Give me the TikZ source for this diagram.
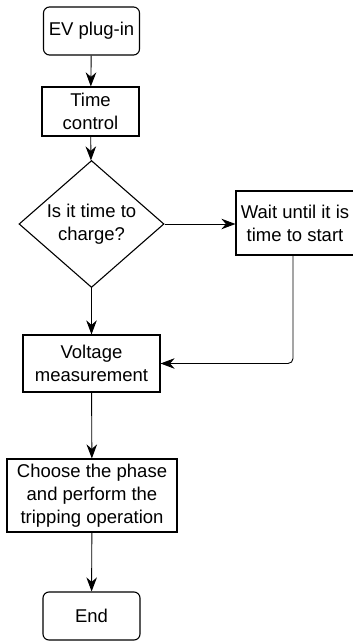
\documentclass[tikz,border=0pt]{standalone}
\usepackage{fontspec}
\setmainfont{Liberation Sans}
\usetikzlibrary{shapes.geometric,arrows.meta,positioning,calc}

\begin{document}
\begin{tikzpicture}[
    x=1pt, y=1pt,
    every node/.style={font=\fontsize{18.5}{23}\selectfont, align=center},
    procbox/.style={draw, line width=1.1pt, inner sep=0pt},
    termbox/.style={procbox, rounded corners=6pt},
    decbox/.style={draw, diamond, line width=1.1pt, inner sep=0pt, aspect=1.14},
    flow/.style={line width=0.9pt, -{Stealth[scale=2]}},
]
    \useasboundingbox (0,0) rectangle (353,-642);

    % main column
    \node[termbox, minimum width=96pt, minimum height=48pt] (plug) at (91.5,-31) {EV plug-in};
    \node[procbox, minimum width=97pt, minimum height=49pt] (timectl) at (90.5,-111.5) {Time\\control};
    \node[decbox, minimum width=145pt, minimum height=127pt] (ask) at (91.5,-224) {Is it time to\\charge?};
    \node[procbox, minimum width=137pt, minimum height=57pt] (volt) at (91.5,-363.5) {Voltage\\measurement};
    \node[procbox, minimum width=170pt, minimum height=73pt] (trip) at (92,-495.5) {Choose the phase\\and perform the\\tripping operation};
    \node[termbox, minimum width=97pt, minimum height=48pt] (fin) at (91.5,-616) {End};

    % waiting branch
    \node[procbox, minimum width=118pt, minimum height=64pt] (wait) at (295,-223) {Wait until it is\\time to start};
    \coordinate (bend) at (293,-363.5);

    % connectors
    \draw[flow] (plug) -- (timectl);
    \draw[flow] (timectl) -- (ask);
    \draw[flow] (ask.east) -- (ask.east -| wait.west);
    \draw[flow] (ask) -- (volt);
    \draw[flow, rounded corners=5pt] (wait.south -| bend) -- (bend) -- (volt.east);
    \draw[flow] (volt) -- (trip);
    \draw[flow] (trip) -- (fin);
\end{tikzpicture}
\end{document}
